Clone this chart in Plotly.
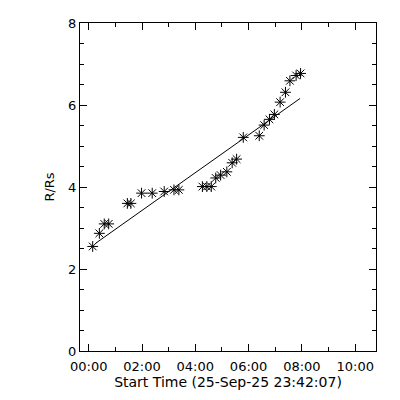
import plotly.graph_objects as go

day = "2025-09-26 "
times = ["00:09", "00:24", "00:35", "00:45", "01:27", "01:35", "01:59", "02:23",
         "02:50", "03:12", "03:23", "04:16", "04:26", "04:36", "04:46", "04:57",
         "05:11", "05:23", "05:33", "05:48", "06:24", "06:35", "06:47", "06:58",
         "07:11", "07:23", "07:33", "07:47", "07:57"]
r_rs = [2.55, 2.87, 3.10, 3.10, 3.60, 3.60, 3.85, 3.85, 3.89, 3.93, 3.93,
        4.01, 4.01, 4.01, 4.22, 4.29, 4.37, 4.59, 4.68, 5.21, 5.25, 5.51,
        5.65, 5.77, 6.07, 6.31, 6.59, 6.72, 6.77]
fit_times = ["00:16", "07:56"]
fit_values = [2.63, 6.16]

x_start = "2025-09-25 23:40:25"
x_end = "2025-09-26 10:46:50"

FONT = "DejaVu Sans"

fig = go.Figure()
fig.add_trace(go.Scatter(
    x=[day + t for t in fit_times], y=fit_values, mode="lines",
    line=dict(color="black", width=1), showlegend=False, hoverinfo="skip"))
fig.add_trace(go.Scatter(
    x=[day + t for t in times], y=r_rs, mode="markers",
    marker=dict(symbol="asterisk-open", size=9, color="black",
                line=dict(color="black", width=1)),
    showlegend=False))

axis_common = dict(showline=True, linecolor="black", linewidth=1, mirror="ticks",
                   ticks="inside", ticklen=7, tickcolor="black", tickwidth=1,
                   showgrid=False, zeroline=False, automargin=False,
                   tickfont=dict(family=FONT, size=13, color="black"))

fig.update_xaxes(type="date", range=[x_start, x_end],
                 tick0="2025-09-26 00:00", dtick=7200000, tickformat="%H:%M",
                 ticklabelstandoff=3,
                 minor=dict(dtick=3600000, ticks="inside", ticklen=4,
                            tickcolor="black", showgrid=False),
                 title=dict(text="Start Time (25-Sep-25 23:42:07)",
                            font=dict(family=FONT, size=14, color="black"),
                            standoff=1),
                 **axis_common)
fig.update_yaxes(range=[0, 8], tick0=0, dtick=2,
                 minor=dict(dtick=0.5, ticks="inside", ticklen=4,
                            tickcolor="black", showgrid=False),
                 title=dict(text="R/Rs",
                            font=dict(family=FONT, size=13, color="black"),
                            standoff=10),
                 **axis_common)

fig.update_layout(width=392, height=392,
                  margin=dict(l=72, r=24, t=15, b=49),
                  paper_bgcolor="white", plot_bgcolor="white")

fig.write_html("out.html")
